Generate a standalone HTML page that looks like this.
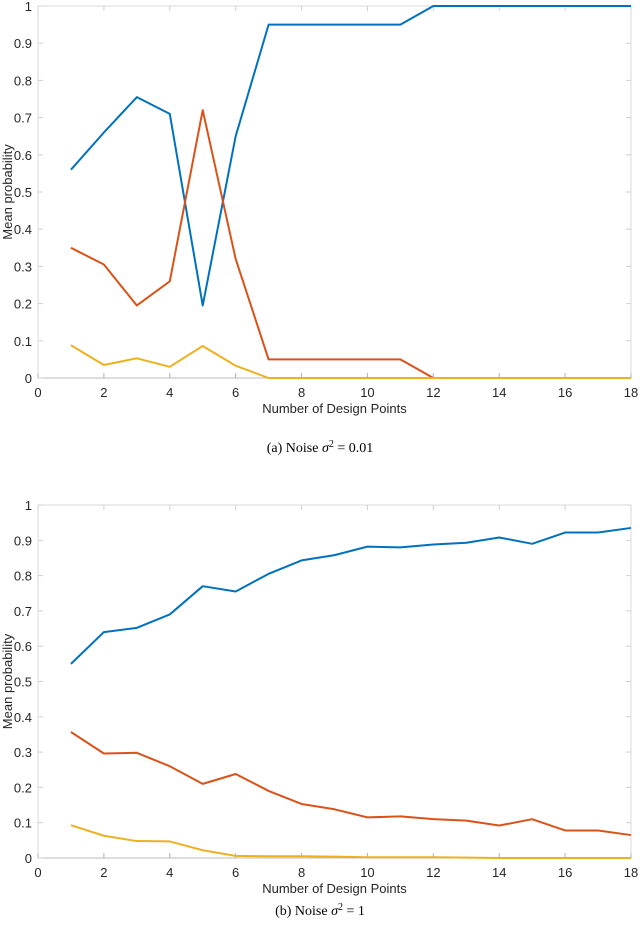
<!DOCTYPE html>
<html><head><meta charset="utf-8"><style>
body{margin:0;background:#fff;width:640px;height:931px;overflow:hidden}
svg{display:block}
text{font-family:"Liberation Sans",sans-serif;font-size:13px;fill:#262626}
.cap{font-family:"Liberation Serif",serif;font-size:14px;fill:#000}
</style></head><body>
<svg id="s" width="640" height="931"></svg>
<script>
const xTicks=[0,2,4,6,8,10,12,14,16,18];
const yTicks=[0,0.1,0.2,0.3,0.4,0.5,0.6,0.7,0.8,0.9,1];
const xVals=[1,2,3,4,5,6,7,8,9,10,11,12,13,14,15,16,17,18];
const aBlue=[0.56,0.66,0.755,0.71,0.195,0.65,0.95,0.95,0.95,0.95,0.95,1,1,1,1,1,1,1];
const aRed=[0.35,0.305,0.195,0.26,0.72,0.32,0.05,0.05,0.05,0.05,0.05,0,0,0,0,0,0,0];
const aYellow=[0.088,0.035,0.053,0.03,0.086,0.033,0,0,0,0,0,0,0,0,0,0,0,0];
const bBlue=[0.55,0.64,0.652,0.69,0.77,0.755,0.805,0.843,0.858,0.882,0.88,0.888,0.893,0.908,0.89,0.922,0.922,0.935];
const bRed=[0.357,0.296,0.298,0.26,0.21,0.238,0.19,0.153,0.138,0.115,0.118,0.11,0.106,0.092,0.11,0.078,0.078,0.065];
const bYellow=[0.093,0.063,0.048,0.047,0.022,0.006,0.005,0.005,0.004,0.002,0.002,0.002,0.001,0,0,0,0,0];
const NS="http://www.w3.org/2000/svg";
const svg=document.getElementById('s');
function mk(tag,attrs,parent){const e=document.createElementNS(NS,tag);for(const k in attrs)e.setAttribute(k,attrs[k]);(parent||svg).appendChild(e);return e;}
function chart(id,top,bot,series,caption,capY){
  const g=mk('g',{});
  
  
  const x0=38,x1=631;
  const xs=v=>x0+(x1-x0)*v/18;
  const ys=v=>bot-(bot-top)*v;
  const box=mk('rect',{x:x0,y:top,width:x1-x0,height:bot-top,fill:'none',stroke:'#d0d0d0','stroke-width':0.8},g);
  
  
  mk('line',{x1:x0,y1:bot,x2:x1,y2:bot,stroke:'#b0b0b0','stroke-width':0.8},g);
  xTicks.forEach(t=>{
    mk('line',{x1:xs(t),y1:bot,x2:xs(t),y2:bot-5,stroke:'#b0b0b0'},g);
    mk('line',{x1:xs(t),y1:top,x2:xs(t),y2:top+5,stroke:'#d0d0d0'},g);
    const tx=mk('text',{x:xs(t),y:bot+19,'text-anchor':'middle'},g);tx.textContent=t;
    
    
  });
  yTicks.forEach(t=>{
    mk('line',{x1:x0,y1:ys(t),x2:x0+5,y2:ys(t),stroke:'#d0d0d0'},g);
    mk('line',{x1:x1,y1:ys(t),x2:x1-5,y2:ys(t),stroke:'#d0d0d0'},g);
    const tx=mk('text',{x:x0-6,y:ys(t)+5,'text-anchor':'end'},g);tx.textContent=String(t);
    
    
  });
  series.forEach(([name,vals,col])=>{
    const p=mk('polyline',{points:vals.map((v,i)=>xs(xVals[i])+','+ys(v)).join(' '),fill:'none',stroke:col,'stroke-width':2,'stroke-linejoin':'round'},g);
    
    
  });
  const xl=mk('text',{x:(x0+x1)/2,y:bot+35,'text-anchor':'middle','font-size':14},g);xl.textContent='Number of Design Points';
  
  
  const yl=mk('text',{x:0,y:0,'text-anchor':'middle',transform:`translate(12,${(top+bot)/2}) rotate(-90)`},g);yl.textContent='Mean probability';
  
  
  const c=mk('text',{x:320,y:capY,'text-anchor':'middle',class:'cap'},g);
  c.innerHTML='(a) Noise <tspan font-style="italic">σ</tspan><tspan dy="-5" font-size="10">2</tspan><tspan dy="5"> = '+caption+'</tspan>';
  
  
  return c;
}
chart('chart-a',6,378,[['blue-line-a',aBlue,'#0072BD'],['red-line-a',aRed,'#D95319'],['yellow-line-a',aYellow,'#EDB120']],'0.01',452);
const c2=chart('chart-b',505,858,[['blue-line-b',bBlue,'#0072BD'],['red-line-b',bRed,'#D95319'],['yellow-line-b',bYellow,'#EDB120']],'1',915);
c2.firstChild.textContent='(b) Noise ';
</script>
</body></html>
